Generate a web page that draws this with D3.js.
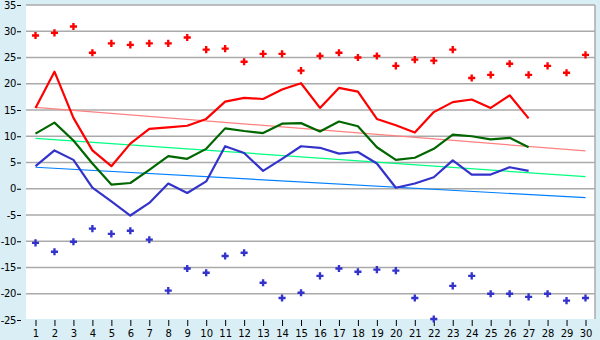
<!DOCTYPE html>
<html>
<head>
<meta charset="utf-8">
<script src="https://cdn.jsdelivr.net/npm/d3@7"></script>
<style>
  body { margin: 0; background: #d9eef5; }
  svg { display: block; }
  .tick text { font-family: "DejaVu Sans", Verdana, sans-serif; font-size: 10px; fill: #000; }
  .yaxis .tick text { letter-spacing: -0.4px; }
</style>
</head>
<body>
<div id="chart"></div>
<script>
var days = d3.range(1, 31);

var maxPoints = [29.2, 29.7, 30.9, 25.9, 27.7, 27.4, 27.7, 27.7, 28.8, 26.5,
                 26.7, 24.2, 25.7, 25.7, 22.5, 25.3, 25.9, 25.0, 25.3, 23.4,
                 24.6, 24.4, 26.5, 21.1, 21.7, 23.8, 21.7, 23.4, 22.1, 25.5];

var minPoints = [-10.3, -12.0, -10.1, -7.6, -8.6, -8.0, -9.7, -19.4, -15.2, -16.0,
                 -12.8, -12.2, -17.9, -20.8, -19.8, -16.6, -15.2, -15.8, -15.4, -15.6,
                 -20.8, -24.8, -18.5, -16.6, -20.0, -20.0, -20.6, -20.0, -21.3, -20.8];

var highLine = [15.4, 22.3, 13.5, 7.3, 4.3, 8.6, 11.4, 11.7, 12.0, 13.3,
                16.6, 17.3, 17.1, 18.9, 20.1, 15.4, 19.2, 18.5, 13.3, 12.1,
                10.7, 14.6, 16.5, 17.0, 15.4, 17.8, 13.4];

var meanLine = [10.5, 12.6, 9.2, 4.8, 0.8, 1.1, 3.6, 6.2, 5.7, 7.6,
                11.5, 11.0, 10.6, 12.4, 12.5, 10.9, 12.8, 11.9, 7.9, 5.5,
                5.9, 7.6, 10.3, 10.0, 9.4, 9.7, 7.9];

var lowLine = [4.3, 7.3, 5.5, 0.2, -2.4, -5.1, -2.7, 1.0, -0.8, 1.4,
               8.1, 6.8, 3.4, 5.7, 8.1, 7.8, 6.7, 7.0, 4.8, 0.2,
               1.0, 2.2, 5.4, 2.7, 2.7, 4.1, 3.4];

// trend lines: value at day 1 and day 30
var highTrend = [15.5, 7.2];
var meanTrend = [9.6, 2.3];
var lowTrend = [4.1, -1.7];

var yTicks = [-25, -20, -15, -10, -5, 0, 5, 10, 15, 20, 25, 30, 35];

var width = 600, height = 340;
var plot = {left: 26, right: 595, top: 5, bottom: 319};

var svg = d3.select("#chart").append("svg")
    .attr("width", width)
    .attr("height", height);

var x = d3.scalePoint()
    .domain(days)
    .range([35.5, 585.5]);

var y = d3.scaleLinear()
    .domain([-25, 35])
    .range([320, 5]);

svg.append("rect")
    .attr("x", plot.left)
    .attr("y", plot.top)
    .attr("width", plot.right - plot.left)
    .attr("height", plot.bottom - plot.top)
    .attr("fill", "#fff");

// gridlines
svg.append("g")
  .selectAll("line")
  .data(yTicks.filter(function(d) { return d > -25; }))
  .enter().append("line")
    .attr("x1", plot.left)
    .attr("x2", plot.right)
    .attr("y1", function(d) { return y(d); })
    .attr("y2", function(d) { return y(d); })
    .attr("stroke", "#aaa")
    .attr("stroke-width", 1.5);

svg.append("line")
    .attr("x1", plot.right).attr("x2", plot.right)
    .attr("y1", plot.top).attr("y2", plot.bottom)
    .attr("stroke", "#aaa")
    .attr("stroke-width", 1.5);

// axes
var yAxis = svg.append("g")
    .attr("class", "yaxis")
    .attr("transform", "translate(21,0)")
    .call(d3.axisLeft(y).tickValues(yTicks).tickSize(4).tickPadding(1)
      .tickFormat(function(d) { return String(d); }));
yAxis.select(".domain").remove();

var xAxis = svg.append("g")
    .attr("transform", "translate(0,320)")
    .call(d3.axisBottom(x).tickSize(6).tickPadding(4));
xAxis.select(".domain").remove();

function trendLine(vals, color) {
  svg.append("line")
      .attr("x1", x(1)).attr("y1", y(vals[0]))
      .attr("x2", x(30)).attr("y2", y(vals[1]))
      .attr("stroke", color)
      .attr("stroke-width", 1.2);
}

trendLine(highTrend, "#ff8080");
trendLine(meanTrend, "#00ff80");
trendLine(lowTrend, "#0080ff");

var line = d3.line()
    .x(function(d, i) { return x(days[i]); })
    .y(function(d) { return y(d); });

function drawLine(vals, color) {
  svg.append("path")
      .datum(vals)
      .attr("d", line)
      .attr("fill", "none")
      .attr("stroke", color)
      .attr("stroke-width", 2.2)
      .attr("stroke-linejoin", "round");
}

drawLine(highLine, "#ff0000");
drawLine(meanLine, "#006600");
drawLine(lowLine, "#3333cc");

var cross = d3.symbol().type(d3.symbolCross).size(28);

function drawPoints(vals, color) {
  svg.append("g")
    .selectAll("path")
    .data(vals)
    .enter().append("path")
      .attr("d", cross)
      .attr("transform", function(d, i) { return "translate(" + x(days[i]) + "," + y(d) + ")"; })
      .attr("fill", color);
}

drawPoints(maxPoints, "#ff0000");
drawPoints(minPoints, "#3333cc");
</script>
</body>
</html>
